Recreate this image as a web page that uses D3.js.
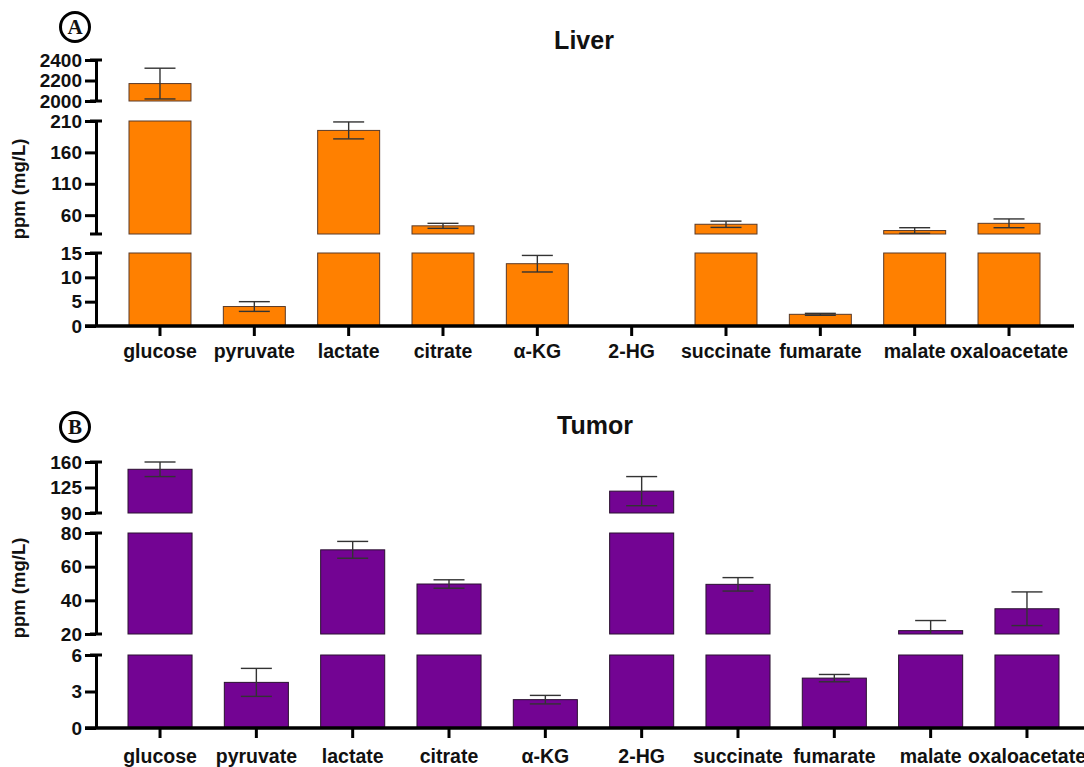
<!DOCTYPE html>
<html>
<head>
<meta charset="utf-8">
<script src="https://cdn.jsdelivr.net/npm/d3@7"></script>
<style>
  body { margin: 0; background: #fff; }
</style>
</head>
<body>
<div id="chart"></div>
<script>
const categories = ["glucose", "pyruvate", "lactate", "citrate", "\u03b1-KG", "2-HG", "succinate", "fumarate", "malate", "oxaloacetate"];

// Liver (ppm)
const liverMean = [2170, 4.0, 195, 43, 12.8, 0, 45.5, 2.4, 35.5, 47];
const liverErr = [150, 1.0, 13.5, 4, 1.7, 0, 5, 0.2, 4.5, 7];
const liverBreaks = [[0, 15], [30, 210], [2000, 2400]];
const liverTicks = [[0, 5, 10, 15], [60, 110, 160, 210], [2000, 2200, 2400]];

// Tumor (ppm)
const tumorMean = [150, 3.75, 70, 49.7, 2.33, 120, 49.5, 4.1, 22, 35];
const tumorErr = [10, 1.15, 5, 2.5, 0.35, 20, 4, 0.3, 6, 10];
const tumorBreaks = [[0, 6], [20, 80], [90, 160]];
const tumorTicks = [[0, 3, 6], [20, 40, 60, 80], [90, 125, 160]];

const width = 1084;
const height = 767;
const sans = "'Liberation Sans', Arial, sans-serif";

const svg = d3.select("#chart")
    .append("svg")
    .attr("width", width)
    .attr("height", height)
    .attr("font-family", sans);

function drawPanel(opt) {
    const g = svg.append("g");
    const axisX = 96;

    const x = d3.scaleBand()
        .domain(categories)
        .range(opt.xRange)
        .paddingInner(opt.padInner)
        .paddingOuter(0);

    // one linear scale per axis segment
    const segs = opt.breaks.map((dom, i) => ({
        lo: dom[0],
        hi: dom[1],
        ticks: opt.ticks[i],
        y: d3.scaleLinear().domain(dom).range(opt.segPx[i])
    }));

    const data = categories.map((c, i) => ({ cat: c, v: opt.mean[i], e: opt.err[i] }));

    // bars, cut into pieces by the breaks
    segs.forEach(s => {
        g.append("g").selectAll("rect")
            .data(data.filter(d => d.v > s.lo))
            .join("rect")
            .attr("x", d => x(d.cat))
            .attr("width", x.bandwidth())
            .attr("y", d => s.y(Math.min(d.v, s.hi)))
            .attr("height", d => s.y(s.lo) - s.y(Math.min(d.v, s.hi)))
            .attr("fill", opt.color)
            .attr("stroke", opt.edge)
            .attr("stroke-width", 1);
    });

    // error bars in the segment holding the mean
    const capW = 31;
    data.filter(d => d.v > 0).forEach(d => {
        const s = segs.find(s => d.v >= s.lo && d.v <= s.hi);
        if (!s) return;
        const cx = x(d.cat) + x.bandwidth() / 2;
        const top = Math.min(d.v + d.e, s.hi);
        const bot = Math.max(d.v - d.e, s.lo);
        const eg = g.append("g").attr("stroke", "#333").attr("stroke-width", 1.4);
        eg.append("line").attr("x1", cx).attr("x2", cx).attr("y1", s.y(top)).attr("y2", s.y(bot));
        if (d.v + d.e <= s.hi)
            eg.append("line").attr("x1", cx - capW / 2).attr("x2", cx + capW / 2).attr("y1", s.y(top)).attr("y2", s.y(top));
        if (d.v - d.e >= s.lo)
            eg.append("line").attr("x1", cx - capW / 2).attr("x2", cx + capW / 2).attr("y1", s.y(bot)).attr("y2", s.y(bot));
    });

    // y axis segments
    segs.forEach((s, i) => {
        const ax = g.append("g")
            .attr("transform", `translate(${axisX},0)`)
            .call(d3.axisLeft(s.y).tickValues(s.ticks).tickFormat(d3.format("d"))
                .tickSize(11).tickSizeOuter(0).tickPadding(3));
        ax.attr("font-family", sans);
        ax.select(".domain").attr("stroke", "#000").attr("stroke-width", 3);
        ax.selectAll(".tick line").attr("stroke", "#000").attr("stroke-width", 3);
        ax.selectAll(".tick text")
            .attr("font-size", 19)
            .attr("font-weight", "bold")
            .attr("fill", "#111");
        // end caps of each segment
        const ends = i === 0 ? [s.hi] : [s.lo, s.hi];
        ends.forEach(v => {
            g.append("line")
                .attr("x1", axisX - 6).attr("x2", axisX + 6)
                .attr("y1", s.y(v)).attr("y2", s.y(v))
                .attr("stroke", "#000").attr("stroke-width", 3);
        });
    });

    // x axis
    const y0 = segs[0].y(0);
    const xa = g.append("g")
        .attr("transform", `translate(0,${y0})`)
        .call(d3.axisBottom(x).tickSize(10).tickPadding(opt.labelPad));
    xa.attr("font-family", sans);
    xa.select(".domain").remove();
    xa.selectAll(".tick line").attr("stroke", "#000").attr("stroke-width", 3);
    xa.selectAll(".tick text")
        .attr("font-size", 19.5)
        .attr("font-weight", "bold")
        .attr("fill", "#111");
    g.append("line")
        .attr("x1", 85).attr("x2", opt.xEnd)
        .attr("y1", y0).attr("y2", y0)
        .attr("stroke", "#000").attr("stroke-width", 3.5);

    // y label
    g.append("text")
        .attr("transform", `translate(25,${opt.labelY}) rotate(-90)`)
        .attr("text-anchor", "middle")
        .attr("font-size", 18.5)
        .attr("font-weight", "bold")
        .attr("fill", "#111")
        .text("ppm (mg/L)");

    // title
    g.append("text")
        .attr("x", opt.titleX)
        .attr("y", opt.titleY)
        .attr("text-anchor", "middle")
        .attr("font-size", 25)
        .attr("font-weight", "bold")
        .attr("fill", "#111")
        .text(opt.title);

    // circled panel letter
    g.append("circle")
        .attr("cx", 75).attr("cy", opt.letterY)
        .attr("r", 14.5)
        .attr("fill", "none")
        .attr("stroke", "#000")
        .attr("stroke-width", 3);
    g.append("text")
        .attr("x", 75).attr("y", opt.letterY + 7)
        .attr("text-anchor", "middle")
        .attr("font-family", "'Liberation Serif', 'DejaVu Serif', serif")
        .attr("font-size", 21)
        .attr("font-weight", "bold")
        .attr("fill", "#111")
        .text(opt.letter);
}

drawPanel({
    title: "Liver", titleX: 584, titleY: 49,
    letter: "A", letterY: 27,
    mean: liverMean, err: liverErr,
    breaks: liverBreaks, ticks: liverTicks,
    segPx: [[326, 253], [234, 121], [101, 60]],
    xRange: [129, 1040], padInner: 0.343, xEnd: 1074,
    color: "#ff8000", edge: "#5a3a28",
    labelPad: 8, labelY: 189
});

drawPanel({
    title: "Tumor", titleX: 595, titleY: 434,
    letter: "B", letterY: 427,
    mean: tumorMean, err: tumorErr,
    breaks: tumorBreaks, ticks: tumorTicks,
    segPx: [[728, 655], [634, 533], [513, 462]],
    xRange: [128, 1059], padInner: 0.335, xEnd: 1084,
    color: "#730493", edge: "#2a1030",
    labelPad: 11, labelY: 588
});
</script>
</body>
</html>
